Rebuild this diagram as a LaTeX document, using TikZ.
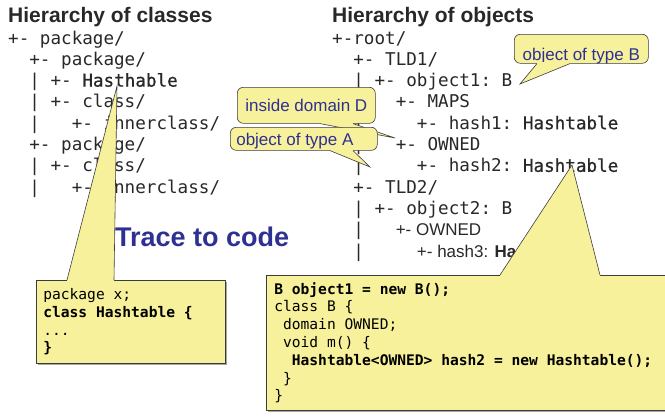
\documentclass[tikz,border=0pt]{standalone}
\usepackage{fontspec}
\setmainfont{Liberation Sans}
\setmonofont{DejaVu Sans Mono}
\newfontfamily\semimono[FakeBold=0.8]{DejaVu Sans Mono}
\usetikzlibrary{calc,shadows}

\definecolor{calloutfill}{RGB}{247,241,156}
\definecolor{calloutline}{RGB}{60,60,60}
\definecolor{noteblue}{RGB}{46,49,146}
\definecolor{treegray}{RGB}{40,40,40}

\newcommand{\hb}[1]{{\semimono #1}}
\newcommand{\proptext}[1]{{\rmfamily\fontsize{17}{20}\selectfont #1}}
\newcommand{\plainspaces}{\spaceskip 0pt\relax \xspaceskip 0pt\relax}
% pointer of a callout: base at #2..#3 along the edge from #1, tip #4, #5 pushes the fill inside
\newcommand{\callwedge}[5]{%
  \fill[wedge] ($(#1)+(#2,#5)$) -- ($(#1)+(#2,0)$) -- (#4) -- ($(#1)+(#3,0)$) -- ($(#1)+(#3,#5)$) -- cycle;
  \draw[wedgeline] ($(#1)+(#2,0)$) -- (#4) -- ($(#1)+(#3,0)$);}

\begin{document}
\begin{tikzpicture}[x=1pt, y=-1pt,
  title/.style={anchor=base west, inner sep=0pt, text=treegray, font=\fontsize{21}{25}\selectfont\bfseries},
  treeline/.style={anchor=base west, inner sep=0pt, text=treegray, font=\fontsize{17.6}{20}\selectfont\ttfamily},
  note/.style={draw=calloutline, fill=calloutfill, rounded corners=6pt, line width=0.6pt,
    text=noteblue, font=\fontsize{17}{20}\selectfont, anchor=north west,
    inner xsep=6pt, inner ysep=0pt, text height=13pt, text depth=0pt},
  codebox/.style={draw=calloutline, fill=calloutfill, line width=0.6pt, anchor=north west,
    inner xsep=7pt, inner ysep=0pt, align=left, text=black,
    font=\fontsize{14.6}{17.8}\selectfont\ttfamily\plainspaces,
    drop shadow={shadow xshift=1.5pt, shadow yshift=-1.5pt, fill=black, opacity=0.35}},
  wedge/.style={fill=calloutfill},
  wedgeline/.style={draw=calloutline, line width=0.6pt, line join=miter},
]
\useasboundingbox (0,0) rectangle (665,416);

% the two trees
\node[title] (clstitle) at (8,22) {Hierarchy of classes};
\node[title] (objtitle) at (332,22) {Hierarchy of objects};

\foreach \line [count=\k from 0] in {{+-~package/}, {~~+-~package/}, {~~|~+-~\hb{Hasthable}},
    {~~|~+-~class/}, {~~|~~~+-~innerclass/}, {~~+-~package/}, {~~|~+-~class/},
    {~~|~~~+-~innerclass/}}
  \node[treeline] (cls\k) at (8, 44+21.3*\k) {\line};

\foreach \line [count=\k from 0] in {{+-root/}, {~~+-~TLD1/}, {~~|~+-~object1:~B}, {~~|~~~+-~MAPS},
    {~~|~~~~~+-~hash1:~\hb{Hashtable}}, {~~|~~~+-~OWNED}, {~~|~~~~~+-~hash2:~\hb{Hashtable}},
    {~~+-~TLD2/}, {~~|~+-~object2:~B}, {~~|~~~\proptext{+- OWNED}},
    {~~|~~~~~\proptext{+- hash3: \textbf{Hashtable}}}}
  \node[treeline] (obj\k) at (332, 44+21.3*\k) {\line};

% callouts
\node[note, minimum width=138pt, minimum height=36pt] (dom) at (237,87) {inside domain D};
\coordinate (domtip) at (395,138);
\callwedge{dom.south west}{83}{116}{domtip}{-1.5}

\node[note, text width=135pt, align=left, minimum height=23pt] (typeA) at (230,127) {\plainspaces object of type A};
\coordinate (typeAtip) at (370,167);
\callwedge{typeA.south west}{100}{123}{typeAtip}{-1.5}

\node[note, minimum width=134pt, minimum height=29pt, text height=23pt] (typeB) at (514,34) {object of type B};
\coordinate (typeBtip) at (520,84);
\callwedge{typeB.south west}{23}{56}{typeBtip}{-1.5}

% code boxes
\node[codebox, text width=175pt, minimum height=83pt] (clscode) at (36,280)
  {\plainspaces package x;\\\textbf{class Hashtable \{}\\...\\\textbf{\}}};
\coordinate (clstip) at (117,86);
\callwedge{clscode.north west}{31}{78}{clstip}{1.5}

\node[codebox, inner xsep=8pt, text width=398pt, minimum height=135pt] (objcode) at (266,275)
  {\plainspaces\textbf{B object1 = new B();}\\class B \{\\~domain OWNED;\\~void m() \{\\
   ~~\textbf{Hashtable<OWNED> hash2 = new Hashtable();}\\~\}\\\}};
\coordinate (objtip) at (572,165);
\callwedge{objcode.north west}{234}{334}{objtip}{1.5}

\node[anchor=base west, inner sep=0pt, text=noteblue, font=\fontsize{27}{30}\selectfont\bfseries] (trace) at (115,246) {Trace to code};

\end{tikzpicture}
\end{document}
